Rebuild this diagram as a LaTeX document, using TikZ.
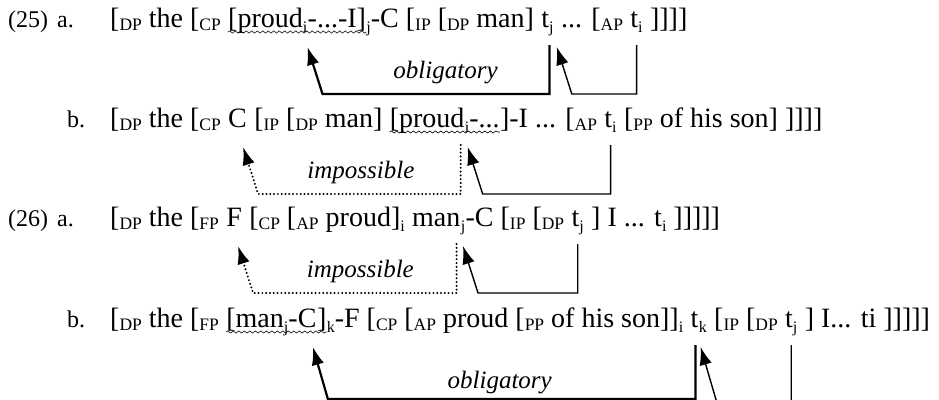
\documentclass[tikz,border=0pt]{standalone}
\usepackage{fontspec}
\setmainfont{Liberation Serif}
\usetikzlibrary{calc,arrows.meta,decorations.pathmorphing}

% category label and index, set small and lowered
\newcommand\cat[1]{\raisebox{-0.3ex}{\fontsize{17.5}{17.5}\selectfont #1}}
\newcommand\ix[1]{\raisebox{-0.45ex}{\fontsize{16}{16}\selectfont #1}}
\newcommand\spc{\ \null}  % space at the end of a piece

\begin{document}
\begin{tikzpicture}[x=1pt, y=-1pt,
    seg/.style={inner sep=0pt, anchor=base west, font=\fontsize{28}{30}\selectfont},
    exno/.style={inner sep=0pt, anchor=base west, font=\fontsize{24}{28}\selectfont},
    gloss/.style={inner sep=0pt, anchor=base, font=\fontsize{25}{28}\selectfont\itshape},
    wave/.style={decorate, decoration={snake, amplitude=1.1pt, segment length=5.5pt}, line width=0.6pt},
    oblig/.style={-{Latex[length=18pt,width=12.5pt]}, line width=2.2pt},
    move/.style={-{Latex[length=18pt,width=12.5pt]}, line width=1.4pt},
    nomove/.style={-{Latex[length=18pt,width=12.5pt]}, line width=2.2pt, dash pattern=on 0pt off 3.8pt, line cap=round}]

    % --- 定义坐标和参数 ---
    \def\rowA{27}     % (25a) 基线
    \def\rowB{127}    % (25b) 基线
    \def\rowC{226}    % (26a) 基线
    \def\rowD{327}    % (26b) 基线
    \def\txtx{110}    % 正文起点
    \def\tipdy{20}    % 箭头尖端在基线下
    \def\topdy{18}    % 竖线顶端在基线下
    \def\botdy{67}    % 横线在基线下
    \def\slant{15}    % 斜线的水平偏移
    \def\glossdy{51}  % 注释文字基线

    \useasboundingbox (0,0) rectangle (939,399);
    \clip (0,0) rectangle (939,399);

    % --- (25a) ---
    \node[exno] (ex25) at (8,\rowA) {(25)};
    \node[exno] (a25) at (57,\rowA) {a.};
    \node[seg] (A1) at (\txtx,\rowA) {[\cat{DP} the [\cat{CP}\spc};
    \node[seg] (A2) at (A1.base east) {[proud\ix{i}};
    \node[seg] (A3) at (A2.base east) {-...-I]};
    \node[seg] (A4) at (A3.base east) {\ix{j}-C [\cat{IP} [\cat{DP} man]\spc};
    \node[seg] (A5) at (A4.base east) {t\ix{j}};
    \node[seg] (A6) at (A5.base east) {\ ... [\cat{AP}\spc};
    \node[seg] (A7) at (A6.base east) {t\ix{i}};
    \node[seg] (A8) at (A7.base east) {\ ]]]]};
    \draw[wave] ($(A2.base west)+(0,5)$) -- ($(A3.base east)+(0,5)$);

    % 移位箭头
    \draw[oblig] ($(A5.base)+(2,\topdy)$) |- ($(A3.base west)+(\slant,\botdy)$) -- ($(A3.base west)+(0,\tipdy)$);
    \node[gloss] (obA) at ($(A5.base)!0.5!(A3.base west)+(18,\glossdy)$) {obligatory};
    \draw[move] ($(A7.base)+(0,\topdy)$) |- ($(A5.base east)+(3+\slant,\botdy)$) -- ($(A5.base east)+(3,\tipdy)$);

    % --- (25b) ---
    \node[exno] (b25) at (67,\rowB) {b.};
    \node[seg] (B1) at (\txtx,\rowB) {[\cat{DP} the [\cat{CP}\spc};
    \node[seg] (B2) at (B1.base east) {C};
    \node[seg] (B3) at (B2.base east) {\ [\cat{IP} [\cat{DP} man]\spc};
    \node[seg] (B4) at (B3.base east) {[proud};
    \node[seg] (B5) at (B4.base east) {\ix{i}-...};
    \node[seg] (B6) at (B5.base east) {]-I ... [\cat{AP}\spc};
    \node[seg] (B7) at (B6.base east) {t\ix{i}};
    \node[seg] (B8) at (B7.base east) {\ [\cat{PP} of his son] ]]]]};
    \draw[wave] ($(B4.base west)+(0,5)$) -- ($(B5.base east)+(0,5)$);

    % 移位箭头
    \draw[nomove] ($(B4.base east)+(-4,\topdy)$) |- ($(B2.base east)+(-4+\slant,\botdy)$) -- ($(B2.base east)+(-4,\tipdy)$);
    \node[gloss] (imB) at ($(B4.base east)!0.5!(B2.base east)+(5,\glossdy)$) {impossible};
    \draw[move] ($(B7.base)+(0,\topdy)$) |- ($(B5.base west)+(3+\slant,\botdy)$) -- ($(B5.base west)+(3,\tipdy)$);

    % --- (26a) ---
    \node[exno] (ex26) at (8,\rowC) {(26)};
    \node[exno] (a26) at (57,\rowC) {a.};
    \node[seg] (C1) at (\txtx,\rowC) {[\cat{DP} the [\cat{FP}\spc};
    \node[seg] (C2) at (C1.base east) {F};
    \node[seg] (C3) at (C2.base east) {\ [\cat{CP} [\cat{AP} proud]\ix{i}\spc};
    \node[seg] (C4) at (C3.base east) {man};
    \node[seg] (C5) at (C4.base east) {\ix{j}};
    \node[seg] (C6) at (C5.base east) {-C [\cat{IP} [\cat{DP}\spc};
    \node[seg] (C7) at (C6.base east) {t\ix{j}};
    \node[seg] (C8) at (C7.base east) {\ ] I ... t\ix{i} ]]]]]};

    % 移位箭头
    \draw[nomove] ($(C4.base east)+(-4,\topdy)$) |- ($(C2.base east)+(-4+\slant,\botdy)$) -- ($(C2.base east)+(-4,\tipdy)$);
    \node[gloss] (imC) at ($(C4.base east)!0.5!(C2.base east)+(9,\glossdy)$) {impossible};
    \draw[move] ($(C7.base)+(0,\topdy)$) |- ($(C5.base)+(\slant,\botdy)$) -- ($(C5.base)+(0,\tipdy)$);

    % --- (26b) ---
    \node[exno] (b26) at (67,\rowD) {b.};
    \node[seg] (D1) at (\txtx,\rowD) {[\cat{DP} the [\cat{FP}\spc};
    \node[seg] (D2) at (D1.base east) {[man\ix{j}-};
    \node[seg] (D3) at (D2.base east) {C};
    \node[seg] (D4) at (D3.base east) {]};
    \node[seg] (D5) at (D4.base east) {\ix{k}-F [\cat{CP} [\cat{AP} proud [\cat{PP} of his son]]\ix{i}\spc};
    \node[seg] (D6) at (D5.base east) {t};
    \node[seg] (D7) at (D6.base east) {\ix{k}};
    \node[seg] (D8) at (D7.base east) {\ [\cat{IP} [\cat{DP}\spc};
    \node[seg] (D9) at (D8.base east) {t\ix{j}};
    \node[seg] (D10) at (D9.base east) {\ ] I... ti ]]]]]};
    \draw[wave] ($(D2.base west)+(0,5)$) -- ($(D4.base east)+(0,5)$);

    % 移位箭头 (下端被裁掉)
    \draw[oblig] ($(D6.base)+(1,\topdy)$) |- ($(D3.base east)+(-4+\slant,72)$) -- ($(D3.base east)+(-4,\tipdy)$);
    \node[gloss] (obD) at ($(D6.base)!0.5!(D3.base east)+(-6,\glossdy+10)$) {obligatory};
    \draw[move] ($(D9.base)+(0,\topdy)$) |- ($(D7.base west)+(21,85)$) -- ($(D7.base west)+(2,\tipdy)$);

\end{tikzpicture}
\end{document}
